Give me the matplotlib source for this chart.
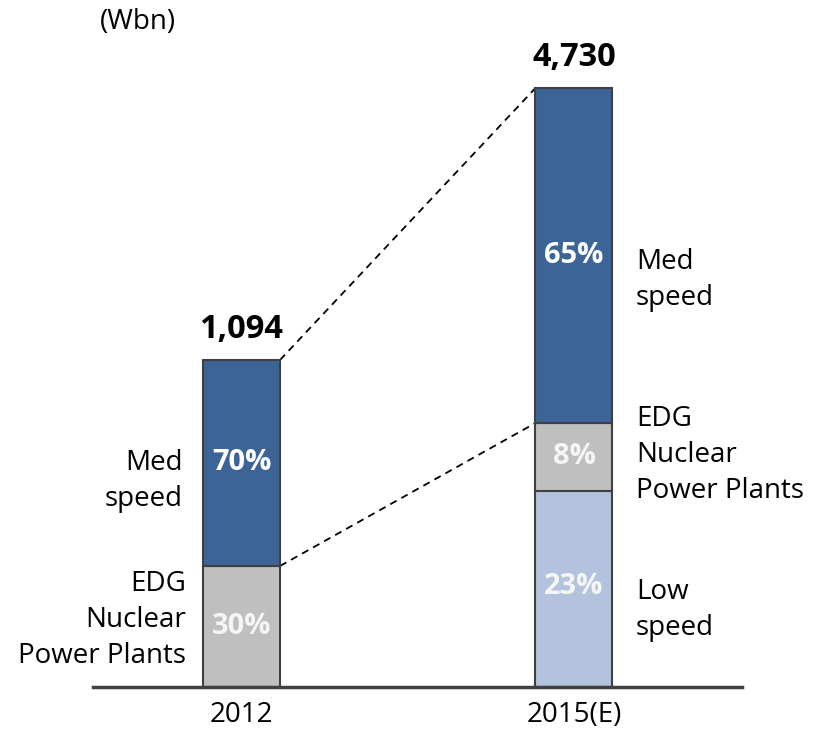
import matplotlib
matplotlib.use("Agg")
import matplotlib.pyplot as plt
import numpy as np

plt.rcParams['font.family'] = ['Open Sans', 'DejaVu Sans']

# ---- data ----
categories = ["2012", "2015(E)"]
totals = ["1,094", "4,730"]
# segment display heights (as drawn in the reference, bottom to top)
seg_low = [0, 196]
seg_edg = [121, 68]
seg_med = [206, 335]
pct_low = [None, "23%"]
pct_edg = ["30%", "8%"]
pct_med = ["70%", "65%"]
unit_label = "(Wbn)"

# ---- styles ----
c_med = "#3C6496"
c_edg = "#BFBFBF"
c_low = "#B3C3DE"
edge = "#404040"

W, H = 826, 731
fig = plt.figure(figsize=(W / 100, H / 100), dpi=100)
base_px = 687
ax = fig.add_axes([93 / W, 1 - base_px / H, (742 - 93) / W, base_px / H])

x = np.arange(len(categories))
bw = 0.2316
ax.set_xlim(-0.4466, 1.5053)
ax.set_ylim(0, base_px)

low = np.array(seg_low, float)
edg = np.array(seg_edg, float)
med = np.array(seg_med, float)

ax.bar(x, low, bw, color=c_low, edgecolor=edge, linewidth=1.5, zorder=3)
ax.bar(x, edg, bw, bottom=low, color=c_edg, edgecolor=edge, linewidth=1.5, zorder=3)
ax.bar(x, med, bw, bottom=low + edg, color=c_med, edgecolor=edge, linewidth=1.5, zorder=3)

tops = low + edg + med
mids = low + edg

# dashed connectors
ax.plot([x[0] + bw / 2, x[1] - bw / 2], [tops[0], tops[1]], ls=(0, (4, 3)), color="black", lw=1.3, zorder=2)
ax.plot([x[0] + bw / 2, x[1] - bw / 2], [mids[0], mids[1]], ls=(0, (4, 3)), color="black", lw=1.3, zorder=2)

# percentage labels
pfs = 21
pw = "bold"
for i in range(len(x)):
    if pct_low[i] and low[i] > 0:
        ax.text(x[i], low[i] / 2 + 2, pct_low[i], ha="center", va="center", color="#F5F5F5",
                fontsize=pfs, fontweight=pw, zorder=4)
    ax.text(x[i], low[i] + edg[i] / 2, pct_edg[i], ha="center", va="center", color="#F5F5F5",
            fontsize=pfs, fontweight=pw, zorder=4)
    ax.text(x[i], low[i] + edg[i] + med[i] / 2, pct_med[i], ha="center", va="center", color="white",
            fontsize=pfs, fontweight=pw, zorder=4)
    ax.text(x[i], tops[i] + 30, totals[i], ha="center", va="center", color="black",
            fontsize=23.5, fontweight="bold")

# side labels
sfs = 20
ls = 1.38
ax.text(x[0] - bw / 2 - 0.06, base_px - 481, "Med\nspeed", ha="right", va="center", fontsize=sfs, linespacing=ls)
ax.text(x[0] - bw / 2 - 0.05, base_px - 620, "EDG\nNuclear\nPower Plants", ha="right", va="center", fontsize=sfs, linespacing=ls)
ax.text(x[1] + bw / 2 + 0.07, base_px - 280, "Med\nspeed", ha="left", va="center", fontsize=sfs, linespacing=ls)
ax.text(x[1] + bw / 2 + 0.07, base_px - 455, "EDG\nNuclear\nPower Plants", ha="left", va="center", fontsize=sfs, linespacing=ls)
ax.text(x[1] + bw / 2 + 0.07, base_px - 610, "Low\nspeed", ha="left", va="center", fontsize=sfs, linespacing=ls)

ax.text((100 - 93) / (742 - 93), 1 - 22 / base_px, unit_label, ha="left", va="center", fontsize=20, transform=ax.transAxes)

ax.set_xticks(x)
ax.set_xticklabels(categories, fontsize=20)
ax.tick_params(axis="x", length=0, pad=10)
ax.set_yticks([])
for s in ["top", "left", "right"]:
    ax.spines[s].set_visible(False)
ax.spines["bottom"].set_color(edge)
ax.spines["bottom"].set_linewidth(2.5)
ax.spines["bottom"].set_zorder(5)

fig.savefig("out.png", dpi=100)
